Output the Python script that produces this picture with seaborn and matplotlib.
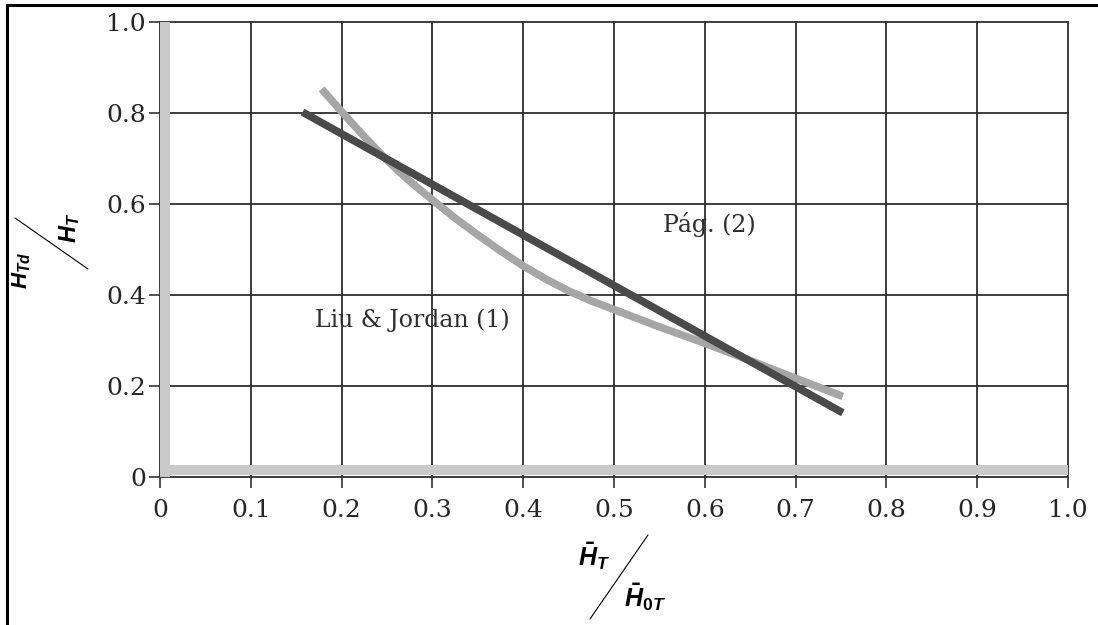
import matplotlib
matplotlib.use("Agg")
import matplotlib.pyplot as plt
import seaborn as sns
import pandas as pd
from matplotlib.lines import Line2D

# ---- data ----
page_x = [0.157, 0.752]
page_y = [0.802, 0.141]

liu_x = [0.178, 0.200, 0.225, 0.250, 0.275, 0.300, 0.325, 0.350, 0.375, 0.400,
         0.425, 0.450, 0.475, 0.500, 0.525, 0.550, 0.600, 0.650, 0.700, 0.752]
liu_y = [0.853, 0.803, 0.748, 0.696, 0.650, 0.609, 0.569, 0.532, 0.497, 0.464,
         0.435, 0.409, 0.387, 0.368, 0.349, 0.330, 0.294, 0.256, 0.217, 0.177]

x_ticks = [0, 0.1, 0.2, 0.3, 0.4, 0.5, 0.6, 0.7, 0.8, 0.9, 1.0]
x_tick_labels = ["0", "0.1", "0.2", "0.3", "0.4", "0.5", "0.6", "0.7", "0.8", "0.9", "1.0"]
y_ticks = [0, 0.2, 0.4, 0.6, 0.8, 1.0]
y_tick_labels = ["0", "0.2", "0.4", "0.6", "0.8", "1.0"]

label_liu = "Liu & Jordan (1)"
label_page = "Pág. (2)"

sns.set_theme(style="white")
plt.rcParams["font.family"] = ["DejaVu Serif"]
plt.rcParams["mathtext.fontset"] = "custom"
plt.rcParams["mathtext.it"] = "Liberation Sans:italic:bold"
plt.rcParams["mathtext.rm"] = "Liberation Sans:bold"
plt.rcParams["mathtext.bf"] = "Liberation Sans:italic:bold"

W, H = 1098, 625
fig = plt.figure(figsize=(W / 100, H / 100), dpi=100)
ax = fig.add_axes([160 / W, 1 - 477 / H, (1068 - 160) / W, (477 - 22) / H])

ax.set_xlim(0, 1)
ax.set_ylim(0, 1)
for s in ax.spines.values():
    s.set_visible(False)

ax.set_xticks(x_ticks)
ax.set_xticklabels(x_tick_labels)
ax.set_yticks(y_ticks)
ax.set_yticklabels(y_tick_labels)
ax.tick_params(axis="x", direction="out", length=8, width=1.2, color="#333333",
               pad=8, labelsize=18, labelcolor="#262626", bottom=True)
ax.tick_params(axis="y", direction="out", length=8, width=1.2, color="#333333",
               pad=2, labelsize=18, labelcolor="#262626", left=True)

ax.grid(True, color="#2e2e2e", linewidth=1.3, zorder=1)
for ln in ax.get_xgridlines() + ax.get_ygridlines():
    ln.set_clip_on(False)

# gray axis bands
ax.axvline(0.0055, color="#c9c9c9", linewidth=7.2, zorder=2, clip_on=False,
           solid_capstyle="butt")
ax.axhline(0.015, color="#c9c9c9", linewidth=7.2, zorder=2, clip_on=False,
           solid_capstyle="butt")

df_liu = pd.DataFrame({"x": liu_x, "y": liu_y})
df_page = pd.DataFrame({"x": page_x, "y": page_y})
sns.lineplot(data=df_liu, x="x", y="y", ax=ax, color="#a6a6a6", linewidth=5.5,
             zorder=3, solid_capstyle="butt")
sns.lineplot(data=df_page, x="x", y="y", ax=ax, color="#4a4a4a", linewidth=5.5,
             zorder=4, solid_capstyle="butt")
ax.set_xlabel("")
ax.set_ylabel("")

ax.text(0.171, 0.345, label_liu, fontsize=17, color="#2e2e2e", va="center", ha="left")
ax.text(0.554, 0.554, label_page, fontsize=17, color="#2e2e2e", va="center", ha="left")

# axis labels as diagonal fractions
def fx(px):
    return px / W

def fy(py):
    return 1 - py / H

fig.text(fx(22), fy(270), r"$H_{Td}$", rotation=90, fontsize=16, color="black",
         ha="center", va="center")
fig.text(fx(70), fy(228), r"$H_{T}$", rotation=90, fontsize=17, color="black",
         ha="center", va="center")
fig.add_artist(Line2D([fx(15), fx(88)], [fy(218), fy(269)], color="black", linewidth=0.8))

fig.text(fx(594), fy(556), r"$\bar{H}_{T}$", fontsize=18, color="black",
         ha="center", va="center")
fig.text(fx(645), fy(597), r"$\bar{H}_{\mathit{0T}}$", fontsize=18, color="black",
         ha="center", va="center")
fig.add_artist(Line2D([fx(648), fx(590)], [fy(535), fy(619)], color="black", linewidth=0.8))

# outer frame (top and left)
fig.add_artist(Line2D([fx(7), fx(1098)], [fy(4.5), fy(4.5)], color="black", linewidth=2.2))
fig.add_artist(Line2D([fx(7), fx(7)], [fy(4.5), fy(625)], color="black", linewidth=2.2))

fig.savefig("out.png", dpi=100)
